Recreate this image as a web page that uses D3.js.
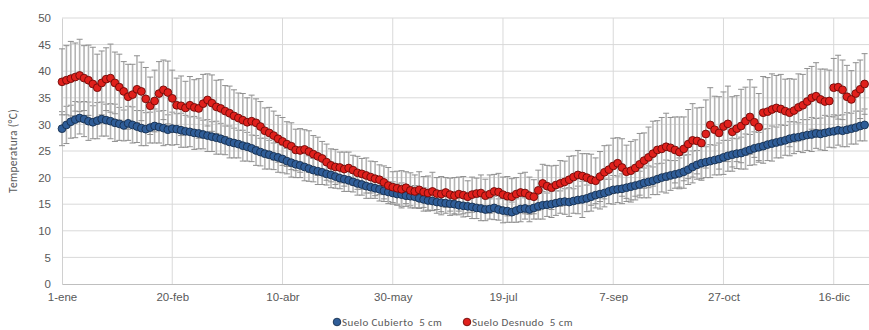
<!DOCTYPE html>
<html>
<head>
<meta charset="utf-8">
<script src="https://cdn.jsdelivr.net/npm/d3@7"></script>
<style>
  body { margin: 0; background: #fff; }
  svg { display: block; font-family: Carlito, "Open Sans", sans-serif; }
</style>
</head>
<body>
<svg id="chart" width="869" height="330"></svg>
<script>
// sampling step in days, starting on 1-ene
const step = 2;

const tickDays = [0, 50, 100, 150, 200, 250, 300, 350];
const tickLabels = ['1-ene', '20-feb', '10-abr', '30-may', '19-jul', '7-sep', '27-oct', '16-dic'];
const yTicks = [0, 5, 10, 15, 20, 25, 30, 35, 40, 45, 50];

// Suelo Cubierto 5 cm (mean)
const cubierto = [
  29.2, 29.9, 30.5, 30.9, 31.2, 31.0, 30.6, 30.4, 30.7, 31.0,
  30.8, 30.6, 30.3, 30.1, 29.8, 30.2, 29.9, 29.6, 29.3, 29.1,
  29.4, 29.7, 29.5, 29.3, 29.0, 29.2, 29.1, 28.9, 28.7, 28.6,
  28.4, 28.3, 28.1, 27.9, 27.7, 27.5, 27.3, 27.0, 26.7, 26.5,
  26.3, 26.0, 25.8, 25.5, 25.1, 24.8, 24.5, 24.3, 24.0, 23.8,
  23.5, 23.1, 22.8, 22.5, 22.3, 22.0, 21.7, 21.4, 21.2, 21.0,
  20.7, 20.5, 20.2, 19.9, 19.7, 19.5, 19.2, 18.9, 18.7, 18.4,
  18.2, 18.0, 17.8, 17.5, 17.3, 17.1, 16.9, 16.8, 16.6, 16.5,
  16.4, 16.1, 15.9, 15.7, 15.6, 15.4, 15.3, 15.2, 15.1, 15.0,
  14.8, 14.7, 14.6, 14.5, 14.3, 14.2, 14.0, 14.1, 14.3, 14.0,
  13.8, 13.7, 13.5, 13.8, 14.1, 14.2, 14.0, 14.3, 14.6, 14.8,
  14.9, 15.0, 15.2, 15.4, 15.5, 15.4, 15.6, 15.8, 15.9, 16.1,
  16.4, 16.7, 16.9, 17.1, 17.4, 17.7, 17.8, 17.9, 18.1, 18.3,
  18.5, 18.7, 19.0, 19.2, 19.4, 19.7, 20.0, 20.2, 20.4, 20.6,
  20.8, 21.1, 21.5, 22.0, 22.4, 22.7, 22.9, 23.1, 23.3, 23.5,
  23.8, 24.1, 24.3, 24.5, 24.6, 24.9, 25.2, 25.5, 25.7, 25.9,
  26.2, 26.4, 26.6, 26.8, 27.0, 27.3, 27.5, 27.6, 27.8, 28.0,
  28.1, 28.3, 28.2, 28.4, 28.6, 28.7, 28.9, 28.8, 29.0, 29.2,
  29.4, 29.7, 29.9
];
const cubiertoErr = [
  3.2, 3.5, 3.1, 3.4, 3.0, 3.3, 3.6, 3.1, 3.4, 3.2,
  3.0, 3.3, 3.5, 3.1, 2.9, 3.2, 3.4, 3.0, 3.3, 3.1,
  2.9, 3.2, 3.0, 3.3, 2.8, 3.1, 2.9, 3.2, 3.0, 2.8,
  3.1, 2.9, 2.7, 3.0, 2.8, 3.1, 2.9, 2.7, 3.0, 2.8,
  2.6, 2.9, 2.7, 2.5, 2.8, 2.6, 2.9, 2.7, 2.5, 2.8,
  2.6, 2.4, 2.7, 2.5, 2.3, 2.6, 2.4, 2.2, 2.5, 2.3,
  2.1, 2.4, 2.2, 2.0, 2.3, 2.1, 1.9, 2.2, 2.0, 2.3,
  2.1, 1.9, 2.2, 2.0, 1.8, 2.1, 1.9, 2.2, 2.0, 1.8,
  2.1, 1.9, 2.2, 2.0, 1.8, 2.1, 2.3, 1.9, 2.2, 2.0,
  1.8, 2.1, 1.9, 2.2, 2.0, 2.3, 2.1, 1.9, 2.2, 2.0,
  2.3, 2.1, 1.9, 2.2, 2.4, 2.0, 2.3, 2.1, 2.4, 2.6,
  2.2, 2.5, 2.3, 2.1, 2.4, 2.7, 2.3, 2.6, 3.4, 2.5,
  2.7, 2.4, 2.8, 2.6, 2.3, 2.7, 2.5, 2.8, 2.6, 2.9,
  2.7, 2.5, 2.8, 3.0, 2.6, 2.9, 2.7, 3.1, 2.8, 2.6,
  2.9, 3.1, 2.8, 3.0, 2.7, 3.2, 2.9, 3.1, 2.8, 3.0,
  3.2, 2.9, 3.1, 2.8, 3.0, 3.3, 2.9, 3.1, 2.8, 3.2,
  3.0, 3.3, 2.9, 3.1, 2.8, 3.2, 3.0, 2.7, 3.1, 2.9,
  3.2, 2.8, 3.0, 3.3, 2.9, 3.1, 2.8, 3.0, 3.2, 2.9,
  3.1, 2.8, 3.0
];

// Suelo Desnudo 5 cm (mean)
const desnudo = [
  38.0, 38.3, 38.6, 38.9, 39.2, 38.7, 38.3, 37.6, 36.9, 37.8,
  38.5, 38.7, 37.8, 37.0, 36.2, 35.2, 35.6, 36.6, 36.2, 34.8,
  33.5, 34.4, 35.8, 36.5, 36.0, 34.9, 33.6, 33.5, 33.1, 33.6,
  33.2, 33.0, 33.9, 34.6, 34.0, 33.3, 33.0, 32.5, 32.1, 31.6,
  31.2, 30.8, 30.4, 30.6, 30.3, 29.6, 28.8, 28.4, 27.9, 27.3,
  26.8, 26.3, 25.9, 25.2, 25.1, 25.3, 24.9, 24.4, 24.0, 23.6,
  22.9, 22.3, 22.0, 21.9, 21.6, 21.8, 21.4, 20.9, 20.7, 20.4,
  20.1, 19.8, 19.6, 19.1, 18.5, 18.2, 18.0, 17.8, 18.1, 17.6,
  17.4, 17.7, 17.3, 17.1, 17.4, 17.0, 16.9, 17.2, 16.8, 16.6,
  16.9, 16.7, 16.4, 16.8, 17.0, 17.1, 16.6, 16.9, 17.4, 17.3,
  16.8, 16.5, 16.4, 16.9, 17.2, 17.1, 16.6, 16.4, 17.6, 18.9,
  18.4, 18.1, 18.6, 18.9, 19.2, 19.6, 20.1, 20.5, 20.3, 20.0,
  19.6, 19.4, 20.2, 21.0, 21.5, 22.2, 22.7, 21.9, 21.1, 21.3,
  21.8, 22.5, 23.2, 23.8, 24.5, 25.2, 25.4, 25.8, 25.6, 25.2,
  24.8, 25.4, 26.3, 27.0, 26.9, 26.5, 28.2, 29.9, 29.0, 28.4,
  29.6, 30.1, 28.6, 29.2, 29.7, 30.6, 31.4, 30.4, 29.5, 32.2,
  32.4, 32.8, 33.1, 32.9, 32.5, 32.2, 32.6, 33.2, 33.6, 34.3,
  35.0, 35.3, 34.7, 34.3, 34.4, 36.9, 37.0, 36.5, 35.2, 34.7,
  35.8, 36.6, 37.6
];
const desnudoErr = [
  6.2, 6.5, 7.0, 6.4, 6.8, 6.1, 6.6, 6.9, 6.3, 6.0,
  5.9, 6.4, 5.8, 6.2, 5.6, 6.1, 5.7, 6.3, 5.5, 5.9,
  5.4, 5.8, 6.0, 5.6, 5.9, 5.3, 5.1, 5.6, 5.0, 5.4,
  5.2, 5.6, 5.5, 4.9, 5.3, 5.0, 5.4, 4.8, 5.1, 4.9,
  4.7, 5.0, 4.6, 4.9, 4.5, 4.7, 4.3, 4.8, 4.6, 4.4,
  4.5, 4.2, 4.4, 3.9, 4.1, 3.7, 3.9, 3.5, 3.6, 3.2,
  3.4, 3.1, 3.3, 2.9, 3.2, 3.0, 2.8, 3.1, 2.9, 3.3,
  3.0, 3.2, 2.8, 3.1, 3.4, 2.9, 3.2, 3.5, 3.0, 3.3,
  3.1, 3.4, 2.9, 3.2, 3.6, 3.0, 3.3, 2.8, 3.1, 3.4,
  3.2, 3.5, 3.0, 3.3, 2.9, 3.4, 3.1, 3.6, 3.2, 3.5,
  3.3, 3.7, 3.4, 3.1, 3.6, 3.9, 3.5, 3.2, 3.8, 3.6,
  3.9, 4.1, 3.7, 4.3, 3.9, 4.4, 4.0, 4.6, 4.2, 4.5,
  4.8, 4.3, 4.7, 5.0, 4.6, 5.2, 4.8, 5.4, 5.0, 5.5,
  5.3, 5.8, 5.2, 5.7, 6.1, 5.5, 5.9, 6.3, 5.7, 6.2,
  6.6, 6.0, 6.5, 6.9, 6.2, 6.7, 6.4, 7.0, 6.3, 6.8,
  6.5, 7.1, 6.6, 6.2, 6.9, 6.4, 7.0, 6.6, 6.3, 6.8,
  6.4, 6.7, 6.1, 6.5, 6.0, 6.4, 5.9, 6.3, 5.8, 6.2,
  5.9, 6.3, 5.7, 6.1, 5.8, 5.5, 6.0, 5.6, 5.9, 5.4,
  5.8, 5.5, 5.7
];

const series = [
  { name: 'Suelo Cubierto  5 cm', values: cubierto, err: cubiertoErr, fill: '#2f5d98', stroke: '#17304f' },
  { name: 'Suelo Desnudo  5 cm', values: desnudo, err: desnudoErr, fill: '#e0201c', stroke: '#6e0a08' }
];

const svg = d3.select('#chart');
const margin = { top: 18, right: 0, bottom: 46, left: 62 };
const width = 869, height = 330;

const x = d3.scaleLinear().domain([0, 366]).range([margin.left, width - margin.right]);
const y = d3.scaleLinear().domain([0, 50]).range([height - margin.bottom, margin.top]);

// gridlines
svg.append('g')
  .selectAll('line')
  .data(yTicks.slice(1))
  .enter().append('line')
  .attr('x1', x(0)).attr('x2', x(366))
  .attr('y1', d => y(d)).attr('y2', d => y(d))
  .attr('stroke', '#d9d9d9').attr('stroke-width', 1);

svg.append('g')
  .selectAll('line')
  .data(tickDays.slice(1))
  .enter().append('line')
  .attr('x1', d => x(d)).attr('x2', d => x(d))
  .attr('y1', y(0)).attr('y2', y(50))
  .attr('stroke', '#d9d9d9').attr('stroke-width', 1);

// axes
const yAxis = svg.append('g')
  .attr('transform', `translate(${margin.left},0)`)
  .call(d3.axisLeft(y).tickValues(yTicks).tickSize(0).tickPadding(11));
yAxis.select('.domain').attr('stroke', '#d0d0d0');

const xAxis = svg.append('g')
  .attr('transform', `translate(0,${y(0)})`)
  .call(d3.axisBottom(x).tickValues(tickDays).tickFormat((d, i) => tickLabels[i]).tickSize(0).tickPadding(9));
xAxis.select('.domain').attr('stroke', '#bfbfbf');

svg.selectAll('.tick text')
  .attr('fill', '#595959')
  .style('font-size', '11.5px');

// y title
svg.append('text')
  .attr('transform', `translate(17,${(y(0) + y(50)) / 2}) rotate(-90)`)
  .attr('text-anchor', 'middle')
  .attr('fill', '#595959')
  .style('font-size', '11.5px')
  .style('letter-spacing', '0.3px')
  .text('Temperatura (°C)');

// error bars
const cap = 3;
series.forEach(s => {
  const pts = s.values.map((v, i) => ({ day: i * step, v: v, e: s.err[i] }));
  const g = svg.append('g').attr('stroke-width', 1);
  g.selectAll('line.v')
    .data(pts).enter().append('line')
    .attr('stroke', '#b4b4b4').attr('stroke-width', 1.6)
    .attr('x1', d => x(d.day)).attr('x2', d => x(d.day))
    .attr('y1', d => y(d.v - d.e)).attr('y2', d => y(d.v + d.e));
  g.selectAll('line.top')
    .data(pts).enter().append('line')
    .attr('stroke', '#8f8f8f')
    .attr('x1', d => x(d.day) - cap).attr('x2', d => x(d.day) + cap)
    .attr('y1', d => y(d.v + d.e)).attr('y2', d => y(d.v + d.e));
  g.selectAll('line.bot')
    .data(pts).enter().append('line')
    .attr('stroke', '#8f8f8f')
    .attr('x1', d => x(d.day) - cap).attr('x2', d => x(d.day) + cap)
    .attr('y1', d => y(d.v - d.e)).attr('y2', d => y(d.v - d.e));
});

// markers
series.forEach(s => {
  svg.append('g')
    .selectAll('circle')
    .data(s.values)
    .enter().append('circle')
    .attr('cx', (d, i) => x(i * step))
    .attr('cy', d => y(d))
    .attr('r', 3.9)
    .attr('fill', s.fill)
    .attr('stroke', s.stroke)
    .attr('stroke-width', 0.9);
});

// legend
const legendX = [337, 467];
const legend = svg.append('g');
series.forEach((s, i) => {
  legend.append('circle')
    .attr('cx', legendX[i]).attr('cy', 322).attr('r', 3.8)
    .attr('fill', s.fill).attr('stroke', s.stroke).attr('stroke-width', 0.9);
  legend.append('text')
    .attr('x', legendX[i] + 5).attr('y', 326)
    .attr('fill', '#595959')
    .style('font-size', '11px')
    .style('letter-spacing', '0.4px')
    .style('white-space', 'pre')
    .text(s.name);
});
</script>
</body>
</html>
